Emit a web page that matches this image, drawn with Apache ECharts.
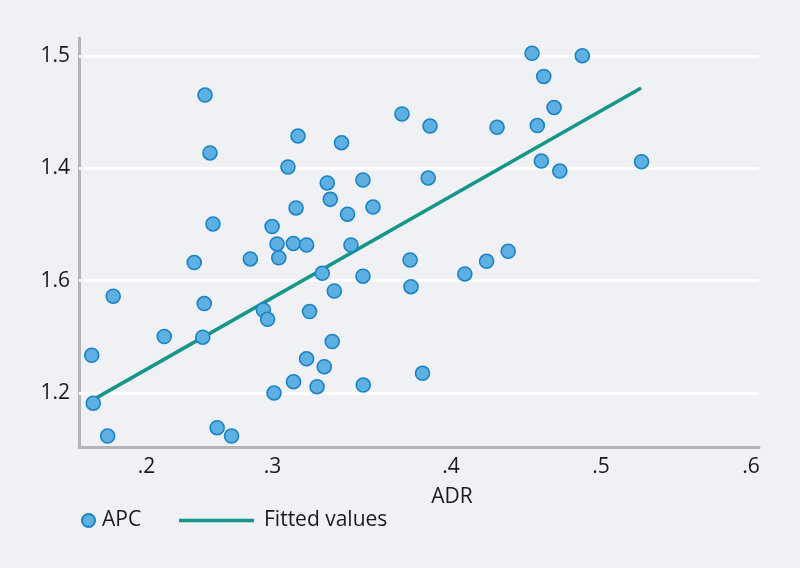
<!DOCTYPE html>
<html><head><meta charset="utf-8">
<script src="https://cdn.jsdelivr.net/npm/echarts@6/dist/echarts.min.js"></script>
<style>html,body{margin:0;padding:0;background:#eff1f4}#c{width:800px;height:568px}</style>
</head><body><div id="c"></div>
<script>
const adr = [0.236,0.298,0.2393,0.2913,0.2967,0.2413,0.2807,0.284,0.2949,0.3037,
  0.3333,0.3673,0.386,0.4307,0.327,0.3175,0.3413,0.3848,0.3195,0.348,
  0.331,0.454,0.4875,0.4618,0.4687,0.4575,0.4602,0.4725,0.527,0.2288,
  0.2662,0.2852,0.1748,0.2355,0.2749,0.2777,0.2088,0.2345,0.1605,0.295,
  0.282,0.1615,0.1711,0.2441,0.2537,0.3057,0.3037,0.3142,0.3413,0.3727,
  0.3733,0.4092,0.4237,0.4381,0.3222,0.3208,0.3155,0.3107,0.3415,0.381];
const apc = [1.7305,1.6575,1.6273,1.6024,1.5294,1.5009,1.4964,1.4653,1.4662,1.4635,
  1.4635,1.6967,1.6753,1.673,1.6456,1.5739,1.5792,1.5828,1.5448,1.5311,
  1.5183,1.8048,1.8005,1.7635,1.7083,1.6762,1.613,1.5952,1.6118,1.4323,
  1.4386,1.4407,1.3723,1.3593,1.3478,1.3312,1.3006,1.2993,1.2671,1.2201,
  1.2,1.1818,1.1234,1.1382,1.1234,1.3451,1.2609,1.4131,1.4079,1.4368,
  1.3892,1.4119,1.4345,1.4523,1.3816,1.2917,1.2468,1.2112,1.2142,1.2351];
const fitX = [0.1627, 0.5267];
const fitY = [1.190, 1.743];
const xTickValues = [0.197, 0.281, 0.4, 0.5, 0.6];
const xTickLabels = ['.2', '.3', '.4', '.5', '.6'];
const yTickValues = [1.2, 1.4, 1.6, 1.8];
const yTickLabels = ['1.2', '1.6', '1.4', '1.5'];

const FONT = "'Open Sans', sans-serif";
function nearestLabel(vals, labels, v) {
  let bi = 0;
  for (let i = 1; i < vals.length; i++) if (Math.abs(vals[i] - v) < Math.abs(vals[bi] - v)) bi = i;
  return labels[bi];
}
const chart = echarts.init(document.getElementById('c'));
chart.setOption({
  backgroundColor: '#eff1f4',
  animation: false,
  grid: { left: 79, right: 41, top: 38, bottom: 121 },
  xAxis: {
    type: 'value', min: 0.152, max: 0.6053,
    name: 'ADR', nameLocation: 'middle', nameGap: 40,
    nameTextStyle: { fontFamily: FONT, fontSize: 21, color: '#1a1a1a', padding: [0, 0, 0, 66] },
    axisLine: { show: true, onZero: false, lineStyle: { color: '#b3b5b8', width: 3 } },
    axisTick: { show: false },
    splitLine: { show: false },
    axisLabel: {
      customValues: xTickValues, margin: 10,
      fontFamily: FONT, fontSize: 21, color: '#1a1a1a',
      formatter: v => nearestLabel(xTickValues, xTickLabels, v)
    }
  },
  yAxis: {
    type: 'value', min: 1.1039, max: 1.832,
    axisLine: { show: true, onZero: false, lineStyle: { color: '#b3b5b8', width: 3 } },
    axisTick: { show: false },
    splitLine: { show: false },
    axisLabel: {
      customValues: yTickValues, margin: 9,
      fontFamily: FONT, fontSize: 21, color: '#1a1a1a',
      formatter: v => nearestLabel(yTickValues, yTickLabels, v)
    }
  },
  legend: [
    { data: ['APC'], left: 76, top: 505, icon: 'circle', itemWidth: 13, itemHeight: 13,
      itemGap: 0, selectedMode: false,
      textStyle: { fontFamily: FONT, fontSize: 21, color: '#1a1a1a', padding: [0, 0, 0, 2] } },
    { data: [{ name: 'Fitted values', icon: 'rect' }], left: 174, top: 505, itemWidth: 75, itemHeight: 3.5,
      selectedMode: false,
      textStyle: { fontFamily: FONT, fontSize: 21, color: '#1a1a1a', padding: [0, 0, 0, 5] } }
  ],
  series: [
    {
      name: 'Fitted values', type: 'line', z: 2,
      data: fitX.map((x, i) => [x, fitY[i]]),
      symbol: 'none', lineStyle: { color: '#169589', width: 3.5 },
      itemStyle: { color: '#169589' },
      markLine: {
        silent: true, symbol: 'none', z: 1, label: { show: false },
        lineStyle: { color: '#ffffff', width: 3, type: 'solid' },
        data: yTickValues.map(v => ({ yAxis: v }))
      }
    },
    {
      name: 'APC', type: 'scatter', z: 3,
      data: adr.map((x, i) => [x, apc[i]]),
      symbolSize: 14,
      itemStyle: { color: '#5eafe2', borderColor: '#1a83c6', borderWidth: 1.6, opacity: 1 }
    }
  ]
});
</script></body></html>
